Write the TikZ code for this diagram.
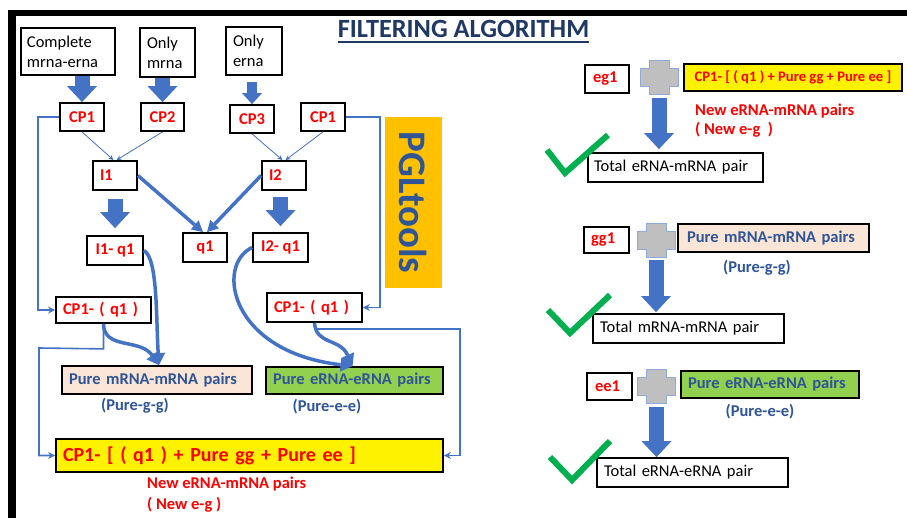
\documentclass[tikz,border=0pt]{standalone}
\usepackage{fontspec}
\setmainfont{Carlito}
\usetikzlibrary{arrows.meta}
\definecolor{arrowblue}{HTML}{4472C4}
\definecolor{txtblue}{HTML}{2F5597}
\definecolor{navy}{HTML}{1F3864}
\definecolor{orangeb}{HTML}{FFC000}
\definecolor{peach}{HTML}{FBE5D6}
\definecolor{greenb}{HTML}{92D050}
\definecolor{checkg}{HTML}{00B050}
\definecolor{crossgray}{HTML}{BFBFBF}
\definecolor{crossedge}{HTML}{8FAADC}
\newcommand{\myfsn}{\fontsize{16.5}{20}\selectfont}
\tikzset{
  bx/.style={draw=black, line width=1.8pt, inner ysep=0pt, minimum height=28pt},
  redl/.style={text=red, font=\bfseries\myfsn},
  blk/.style={text=black, font=\myfsn},
  bluel/.style={text=txtblue, font=\bfseries\myfsn},
  blockarrow/.style={draw=arrowblue, line width=15pt, -{Triangle[length=16pt,width=30pt,line width=0pt]}},
  blockarrowsm/.style={draw=arrowblue, line width=10pt, -{Triangle[length=11pt,width=20pt,line width=0pt]}},
  thinarr/.style={draw=arrowblue, line width=0.8pt, -{Stealth[length=5pt,width=4.5pt]}},
  thickarr/.style={draw=arrowblue, line width=3.5pt, -{Triangle[length=11pt,width=12pt,line width=0pt]}},
  thickcurve/.style={draw=arrowblue, line width=3.5pt, -{Triangle[length=12pt,width=14pt,line width=0pt]}},
  route/.style={draw=arrowblue, line width=1.6pt, -{Stealth[length=7pt,width=7pt]}},
  crossn/.style={minimum width=38pt, minimum height=34pt, inner sep=0pt},
  check/.style={draw=checkg, line width=6pt},
  plusshape/.pic={\draw[draw=crossedge, fill=crossgray, line width=0.8pt]
     (-10,-17) -- (10,-17) -- (10,-9) -- (19,-9) -- (19,9) -- (10,9) -- (10,17)
     -- (-10,17) -- (-10,9) -- (-19,9) -- (-19,-9) -- (-10,-9) -- cycle;}
}
\begin{document}
\begin{tikzpicture}[x=1pt,y=-1pt]
\useasboundingbox (0,0) rectangle (907,518);
\fill[white] (0,0) rectangle (907,518);
% frame
\fill[black] (8,10) rectangle (907,16);
\fill[black] (8,10) rectangle (16,518);
% title
\node[font=\bfseries\fontsize{26.3}{30}\selectfont, text=navy, anchor=base, inner sep=0pt] (title) at (463.5,38) {FILTERING ALGORITHM};
\draw[navy, line width=1.2pt] ([yshift=-4pt]title.base west) -- ([yshift=-4pt]title.base east);

% ---------- left part ----------
\node[bx, blk, minimum width=94pt, minimum height=47pt, inner xsep=6pt, text width=82pt, align=left] (complete) at (68,51.5) {Complete\\mrna-erna};
\node[bx, blk, minimum width=55pt, minimum height=49pt, inner xsep=7pt, text width=41pt, align=left] (onlym) at (167.5,52.5) {Only\\mrna};
\node[bx, blk, minimum width=56pt, minimum height=48pt, inner xsep=7pt, text width=42pt, align=left] (onlye) at (254,51) {Only\\erna};

\node[bx, redl, minimum width=44pt] (cp1) at (82,117) {CP1};
\node[bx, redl, minimum width=43pt] (cp2) at (162.5,117) {CP2};
\node[bx, redl, minimum width=44pt] (cp3) at (252,119) {CP3};
\node[bx, redl, minimum width=44pt] (cp1r) at (323,117) {CP1};

\node[bx, redl, minimum height=29pt, inner xsep=7pt, text width=30pt, align=left] (i1) at (115,175.5) {I1};
\node[bx, redl, minimum height=29pt, inner xsep=7pt, text width=30pt, align=left] (i2) at (284,175.5) {I2};

\node[bx, redl, minimum width=56pt, minimum height=29pt] (i1q1) at (115,250.5) {I1- q1};
\node[bx, redl, minimum width=44pt, minimum height=29pt] (q1) at (205,247.5) {q1};
\node[bx, redl, minimum width=55pt, minimum height=29pt] (i2q1) at (280.5,247.5) {I2- q1};

\node[bx, redl, minimum height=26pt, inner xsep=7pt, text width=81pt, align=left] (cp1q1) at (103.5,310) {CP1- ( q1 )};
\node[bx, redl, minimum height=29pt, inner xsep=7pt, text width=81pt, align=left] (cp1q1r) at (314.5,307.5) {CP1- ( q1 )};

\node[bx, bluel, fill=peach, minimum height=28pt, inner xsep=7pt, text width=176pt, align=left] (pureg) at (157,380) {Pure mRNA-mRNA pairs};
\node[bx, bluel, fill=greenb, minimum height=27pt, inner xsep=7pt, text width=163pt, align=left] (puree) at (354.5,380.5) {Pure eRNA-eRNA pairs};
\node[bluel, inner sep=0pt] (puregl) at (135,406) {(Pure-g-g)};
\node[bluel, inner sep=0pt] (pureel) at (327,407) {(Pure-e-e)};

\node[bx, fill=yellow, text=red, font=\bfseries\fontsize{20}{24}\selectfont, minimum height=33pt, inner xsep=7pt, text width=373pt, align=left] (yel) at (249.5,455.5) {CP1- [ ( q1 ) + Pure gg + Pure ee ]};
\node[text=red, align=left, anchor=north west, inner sep=0pt, font=\bfseries\fontsize{16.5}{21}\selectfont] (newl) at (147,477) {New eRNA-mRNA pairs\\( New e-g )};

\node[fill=orangeb, rotate=-90, minimum width=171pt, minimum height=57pt, inner sep=0pt, text=txtblue, font=\bfseries\fontsize{39}{40}\selectfont] (pgl) at (413.5,202.5) {PGLtools};

% left connectors
\draw[blockarrow] (cp1.north |- complete.south) -- (cp1.north);
\draw[blockarrow] (cp2.north |- onlym.south) -- (cp2.north);
\draw[blockarrowsm, shorten <=6pt] (cp3.north |- onlye.south) -- (cp3.north);
\draw[blockarrow, shorten <=8pt, shorten >=7pt] (i1q1.north |- i1.south) -- (i1q1.north);
\draw[blockarrow, shorten <=6pt, shorten >=6pt] (i2q1.north |- i2.south) -- (i2q1.north);

\draw[thinarr] (cp1.south) -- ([xshift=-1.5pt]i1.north);
\draw[thinarr] (cp2.south) -- ([xshift=1.5pt]i1.north);
\draw[thinarr] (cp3.south) -- ([xshift=-1.5pt]i2.north);
\draw[thinarr] (cp1r.south) -- ([xshift=1.5pt]i2.north);

\draw[thickarr] (i1.east) -- ([xshift=-2pt]q1.north);
\draw[thickarr] (i2.west) -- ([xshift=2pt]q1.north);

\draw[route] (cp1.west) -- ++(-21,0) |- (cp1q1.west);
\draw[route] (cp1r.east) -- ++(34,0) |- (cp1q1r.east);
\draw[route] (cp1q1.south) -- ++(0,25) -- (39,348) |- (yel.west);
\draw[route] (cp1q1r.south) |- (460,329) |- (yel.east);

\draw[thickcurve] (i1q1.east) .. controls (158,258) and (156,320) .. ([xshift=2pt]pureg.north);
\draw[thickcurve] (cp1q1.south) .. controls (104,350) and (140,338) .. ([xshift=2pt]pureg.north);
\draw[thickcurve] (i2q1.west) .. controls (215,265) and (230,352) .. ([xshift=-2pt]puree.north);
\draw[thickcurve] (cp1q1r.south) .. controls (316,345) and (340,338) .. ([xshift=-2pt]puree.north);

% ---------- right part ----------
\node[bx, redl, minimum width=44pt, inner xsep=8pt, text width=28pt, align=left] (eg1) at (607,79) {eg1};
\node[crossn] (cr1) at (659,77) {};
\pic at (cr1) {plusshape};
\node[bx, fill=yellow, text=red, font=\bfseries\fontsize{14.6}{18}\selectfont, minimum width=218pt, minimum height=27pt] (yel2) at (793,77.5) {CP1- [ ( q1 ) + Pure gg + Pure ee ]};
\node[text=red, align=left, anchor=north west, inner sep=0pt, font=\bfseries\fontsize{16.5}{19}\selectfont] (new2) at (695,104) {New eRNA-mRNA pairs\\( New e-g \ )};
\node[bx, blk, minimum height=29pt, inner xsep=6pt, text width=163pt, align=left] (tot1) at (675.5,167.5) {Total eRNA-mRNA pair};
\draw[blockarrow, shorten <=4pt, shorten >=3pt] (cr1.south) -- (cr1.south |- tot1.north);
\draw[check] (547,150) -- (565,173) -- (608,135);

\node[bx, redl, minimum height=26pt, inner xsep=7pt, text width=31pt, align=left] (gg1) at (606.5,240) {gg1};
\node[crossn] (cr2) at (656,240) {};
\pic at (cr2) {plusshape};
\node[bx, bluel, fill=peach, minimum height=28pt, inner xsep=9pt, text width=173pt, align=left] (pureg2) at (773.5,238) {Pure mRNA-mRNA pairs};
\node[bluel, inner sep=0pt] (pureg2l) at (757,268) {(Pure-g-g)};
\node[bx, blk, minimum height=29pt, inner xsep=7pt, text width=177pt, align=left] (tot2) at (688.5,328.5) {Total mRNA-mRNA pair};
\draw[blockarrow, shorten <=3pt, shorten >=1pt] (cr2.south) -- (cr2.south |- tot2.north);
\draw[check] (548,310) -- (570,333) -- (610,295);

\node[bx, redl, minimum height=27pt, inner xsep=8pt, text width=29pt, align=left] (ee1) at (609.5,386.5) {ee1};
\node[crossn] (cr3) at (656.5,386.5) {};
\pic at (cr3) {plusshape};
\node[bx, bluel, fill=greenb, minimum height=27pt, inner xsep=7pt, text width=164pt, align=left] (puree2) at (770,384.5) {Pure eRNA-eRNA pairs};
\node[bluel, inner sep=0pt] (puree2l) at (760,412) {(Pure-e-e)};
\node[bx, blk, minimum height=29pt, inner xsep=7pt, text width=177pt, align=left] (tot3) at (692.5,472.5) {Total eRNA-eRNA pair};
\draw[blockarrow, shorten <=3.5pt] (cr3.south) -- (cr3.south |- tot3.north);
\draw[check] (550,457) -- (572,480) -- (610,441);
\end{tikzpicture}
\end{document}
